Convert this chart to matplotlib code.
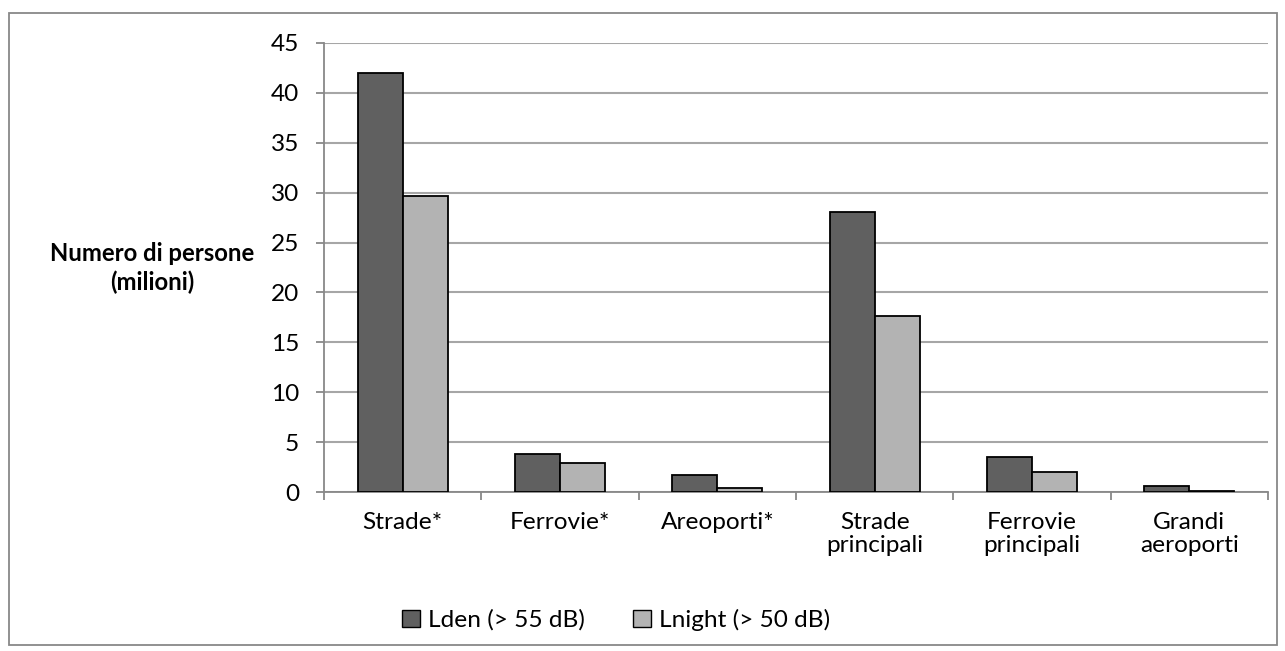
import matplotlib
matplotlib.use("Agg")
import matplotlib.pyplot as plt
import numpy as np
from matplotlib.patches import Rectangle

categories = ["Strade*", "Ferrovie*", "Areoporti*", "Strade\nprincipali", "Ferrovie\nprincipali", "Grandi\naeroporti"]
lden = [42.0, 3.8, 1.7, 28.1, 3.5, 0.6]
lnight = [29.7, 2.9, 0.4, 17.6, 2.0, 0.15]
series_names = ["Lden (> 55 dB)", "Lnight (> 50 dB)"]
yticks = [0, 5, 10, 15, 20, 25, 30, 35, 40, 45]
ylabel = "Numero di persone\n(milioni)"

plt.rcParams['font.family'] = ['Lato', 'DejaVu Sans']

fig = plt.figure(figsize=(12.85, 6.51), dpi=100)
renderer = fig.canvas.get_renderer()


def fit_size(text, target_px, weight='normal'):
    t = fig.text(0, 0, text, fontsize=10, fontweight=weight)
    wpx = t.get_window_extent(renderer).width
    t.remove()
    return 10.0 * target_px / wpx


fs_tick = fit_size("Strade*", 80.0)
fs_lab = fit_size("Numero di persone", 205.0, 'bold')

fig.patches.append(Rectangle((8.5 / 1285, 6 / 651), (1277 - 8.5) / 1285, (638.5 - 6) / 651,
                             transform=fig.transFigure, fill=False,
                             edgecolor='#888888', linewidth=1.3))
ax = fig.add_axes([324 / 1285, 1 - 492.3 / 651, (1268 - 324) / 1285, (492.3 - 42.7) / 651])

x = np.arange(len(categories))
w = 0.286
ax.bar(x - w / 2, lden, width=w, color='#606060', edgecolor='black', linewidth=1.3,
       label=series_names[0], zorder=3)
ax.bar(x + w / 2, lnight, width=w, color='#b3b3b3', edgecolor='black', linewidth=1.3,
       label=series_names[1], zorder=3)

ax.set_xlim(-0.5, len(categories) - 0.5)
ax.set_ylim(0, 45)
ax.set_yticks(yticks)
ax.yaxis.grid(True, color='#a6a6a6', linewidth=1.5, zorder=0)
ax.set_axisbelow(True)

ax.set_xticks(np.arange(-0.5, len(categories)), minor=False)
ax.set_xticklabels([])
ax.set_xticks(x, minor=True)
ax.set_xticklabels(categories, minor=True, fontsize=fs_tick, linespacing=1.15)
ax.tick_params(axis='x', which='minor', length=0, pad=14)
ax.tick_params(axis='x', which='major', length=6, color='#888888', width=1.3)
ax.tick_params(axis='y', length=6, color='#888888', width=1.3, labelsize=fs_tick, pad=12)

for s in ['top', 'right']:
    ax.spines[s].set_visible(False)
for s in ['left', 'bottom']:
    ax.spines[s].set_color('#888888')
    ax.spines[s].set_linewidth(1.3)

fig.text(152.5 / 1285, 1 - 268 / 651, ylabel, ha='center', va='center',
         fontsize=fs_lab, fontweight='bold', linespacing=1.25)

leg = fig.legend(loc='center', bbox_to_anchor=(616 / 1285, 1 - 620 / 651), ncol=2, frameon=False,
                 fontsize=fs_tick, handlelength=0.75, handleheight=0.75, handletextpad=0.3,
                 columnspacing=2.0)
for h in leg.legend_handles:
    h.set_edgecolor('black')
    h.set_linewidth(1.0)

fig.savefig("out.png", dpi=100)
